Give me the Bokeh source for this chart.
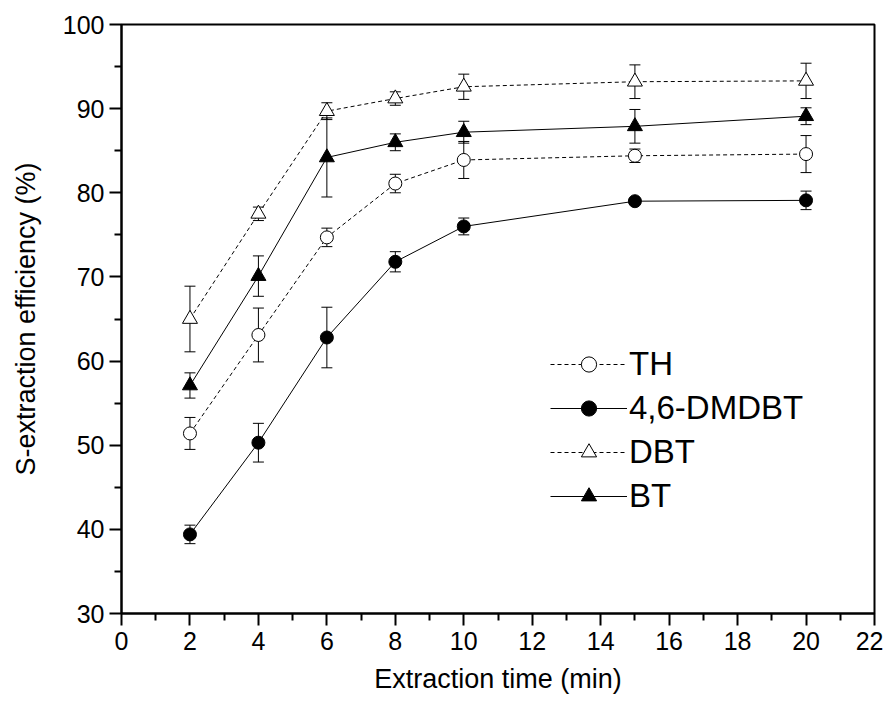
from bokeh.plotting import figure
from bokeh.models import (ColumnDataSource, Whisker, TeeHead, FixedTicker, Range1d,
                          Legend, LegendItem)
from bokeh.embed import file_html
from bokeh.resources import INLINE

# ---- data ----
time = [2, 4, 6, 8, 10, 15, 20]
TH = [51.4, 63.1, 74.7, 81.1, 83.9, 84.4, 84.6]
TH_err = [1.9, 3.2, 1.1, 1.1, 2.2, 0.8, 2.2]
DMDBT = [39.4, 50.3, 62.8, 71.8, 76.0, 79.0, 79.1]
DMDBT_err = [1.1, 2.3, 3.6, 1.2, 1.0, 0.3, 1.1]
DBT = [65.0, 77.5, 89.7, 91.2, 92.6, 93.2, 93.3]
DBT_err = [3.9, 0.8, 1.0, 0.8, 1.5, 2.0, 2.1]
BT = [57.1, 70.1, 84.2, 86.0, 87.2, 87.9, 89.1]
BT_err = [1.5, 2.4, 4.7, 1.0, 1.3, 2.0, 1.0]

x_ticks = [0, 2, 4, 6, 8, 10, 12, 14, 16, 18, 20, 22]
x_minor = [1, 3, 5, 7, 9, 11, 13, 15, 17, 19, 21]
y_ticks = [30, 40, 50, 60, 70, 80, 90, 100]
y_minor = [35, 45, 55, 65, 75, 85, 95]

series = [
    ("TH", TH, TH_err, "circle", "white", "4 3"),
    ("4,6-DMDBT", DMDBT, DMDBT_err, "circle", "black", "solid"),
    ("DBT", DBT, DBT_err, "triangle", "white", "4 3"),
    ("BT", BT, BT_err, "triangle", "black", "solid"),
]

FONT = "Liberation Sans"

p = figure(width=883, height=698, output_backend="svg", toolbar_location=None,
           x_range=Range1d(0, 22), y_range=Range1d(30, 100),
           min_border_left=121, min_border_right=9, min_border_top=24,
           min_border_bottom=85)
p.xgrid.visible = False
p.ygrid.visible = False
p.outline_line_color = "black"
p.outline_line_width = 2
p.outline_line_alpha = 1.0

for ax in (p.xaxis[0], p.yaxis[0]):
    ax.axis_line_width = 2
    ax.axis_line_color = "black"
    ax.major_tick_line_width = 2
    ax.minor_tick_line_width = 2
    ax.major_tick_out = 12
    ax.major_tick_in = 0
    ax.minor_tick_out = 7
    ax.minor_tick_in = 0
    ax.major_label_text_font = FONT
    ax.major_label_text_font_size = "25px"
    ax.major_label_text_color = "black"
    ax.axis_label_text_font = FONT
    ax.axis_label_text_font_size = "27px"
    ax.axis_label_text_font_style = "normal"
    ax.axis_label_text_color = "black"

p.xaxis.ticker = FixedTicker(ticks=x_ticks, minor_ticks=x_minor)
p.yaxis.ticker = FixedTicker(ticks=y_ticks, minor_ticks=y_minor)
p.xaxis.axis_label = "Extraction time (min)"
p.yaxis.axis_label = "S-extraction efficiency (%)"
p.xaxis.major_label_standoff = 6
p.yaxis.major_label_standoff = 5
p.xaxis.axis_label_standoff = 11
p.yaxis.axis_label_standoff = 19

items = []
for name, vals, errs, marker, fill, dash in series:
    src = ColumnDataSource(dict(
        x=time, y=vals,
        upper=[v + e for v, e in zip(vals, errs)],
        lower=[v - e for v, e in zip(vals, errs)],
    ))
    w = Whisker(base="x", upper="upper", lower="lower", source=src,
                dimension="height", level="underlay",
                line_color="black", line_width=1,
                upper_head=TeeHead(size=11, line_color="black", line_width=1),
                lower_head=TeeHead(size=11, line_color="black", line_width=1))
    p.add_layout(w)
    ln = p.line("x", "y", source=src, line_color="black", line_width=1,
                line_dash=dash)
    sc = p.scatter("x", "y", source=src, marker=marker,
                   size=13 if marker == "circle" else 15,
                   fill_color=fill, line_color="black", line_width=1)
    items.append(LegendItem(label=name, renderers=[ln, sc]))

legend = Legend(items=items, location=(429, 98), padding=0, margin=0,
                spacing=6, glyph_width=77, glyph_height=38, label_height=38,
                label_standoff=2, label_text_font=FONT,
                label_text_font_size="33px", label_text_color="black",
                border_line_color=None, background_fill_alpha=0)
p.add_layout(legend, "center")

open("out.html", "w").write(file_html(p, INLINE))
